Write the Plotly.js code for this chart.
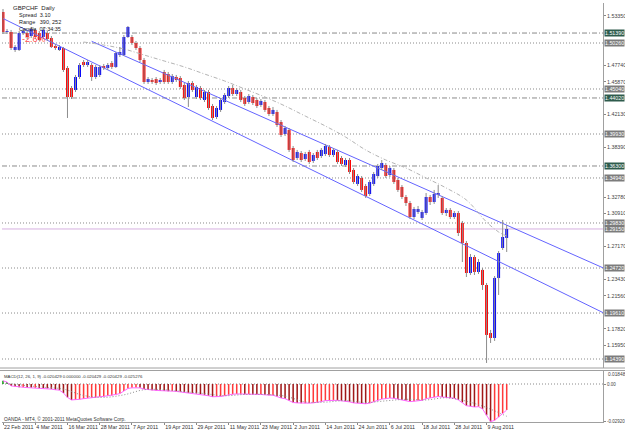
<!DOCTYPE html>
<html><head><meta charset="utf-8">
<script src="https://cdn.plot.ly/plotly-3.0.1.min.js"></script>
<style>html,body{margin:0;padding:0;background:#fff}#chart{width:625px;height:434px}</style>
</head><body><div id="chart"></div>
<script>
// ---- data ----
const dateLabels = ["22 Feb 2011","4 Mar 2011","16 Mar 2011","28 Mar 2011","7 Apr 2011","19 Apr 2011","29 Apr 2011","11 May 2011","23 May 2011","2 Jun 2011","14 Jun 2011","24 Jun 2011","6 Jul 2011","18 Jul 2011","28 Jul 2011","9 Aug 2011"];
const dateBars = [0,8,16,24,32,40,48,56,64,72,80,88,96,104,112,120];

const opens = [1.5378,1.5151,1.5151,1.4947,1.4947,1.5139,1.5139,1.5105,1.5174,1.5139,
 1.5094,1.5139,1.5083,1.4992,1.4947,1.4969,1.4742,1.4515,1.4493,1.4640,
 1.4810,1.4776,1.4776,1.4640,1.4663,1.4765,1.4742,1.4799,1.4754,1.4890,
 1.4890,1.5094,1.5094,1.5026,1.4969,1.4833,1.4583,1.4606,1.4617,1.4583,
 1.4697,1.4674,1.4583,1.4640,1.4629,1.4549,1.4413,1.4572,1.4413,1.4515,
 1.4379,1.4470,1.4311,1.4186,1.4266,1.4356,1.4424,1.4515,1.4447,1.4470,
 1.4402,1.4356,1.4413,1.4379,1.4322,1.4356,1.4288,1.4220,1.4243,1.4129,
 1.3993,1.4039,1.3834,1.3721,1.3777,1.3709,1.3789,1.3687,1.3789,1.3743,
 1.3766,1.3846,1.3755,1.3789,1.3721,1.3641,1.3698,1.3585,1.3426,1.3494,
 1.3403,1.3312,1.3426,1.3516,1.3607,1.3641,1.3528,1.3585,1.3471,1.3392,
 1.3278,1.3210,1.3051,1.3108,1.3040,1.3096,1.3278,1.3221,1.3301,1.3267,
 1.3096,1.3131,1.3051,1.3096,1.2983,1.2756,1.2415,1.2597,1.2427,1.2450,
 1.2279,1.1734,1.1678,1.2359,1.2699,1.2813];
const highs = [1.5412,1.5185,1.5174,1.5003,1.5162,1.5185,1.5162,1.5208,1.5196,1.5162,
 1.5196,1.5162,1.5105,1.5015,1.5003,1.4981,1.4765,1.4538,1.4663,1.4799,
 1.4833,1.4833,1.4799,1.4776,1.4776,1.4788,1.4799,1.4822,1.4924,1.4981,
 1.5117,1.5219,1.5117,1.5049,1.4992,1.4856,1.4640,1.4629,1.4640,1.4629,
 1.4720,1.4697,1.4674,1.4663,1.4651,1.4572,1.4595,1.4595,1.4549,1.4538,
 1.4493,1.4493,1.4334,1.4311,1.4402,1.4458,1.4538,1.4549,1.4515,1.4493,
 1.4424,1.4447,1.4436,1.4402,1.4390,1.4379,1.4311,1.4300,1.4266,1.4152,
 1.4084,1.4061,1.3857,1.3812,1.3800,1.3789,1.3812,1.3777,1.3812,1.3834,
 1.3880,1.3868,1.3834,1.3812,1.3743,1.3721,1.3721,1.3607,1.3539,1.3516,
 1.3426,1.3471,1.3562,1.3653,1.3698,1.3664,1.3630,1.3607,1.3494,1.3414,
 1.3301,1.3233,1.3165,1.3176,1.3131,1.3323,1.3301,1.3358,1.3414,1.3289,
 1.3153,1.3153,1.3119,1.3119,1.3006,1.2779,1.2631,1.2620,1.2574,1.2472,
 1.2302,1.1769,1.2381,1.2665,1.3017,1.2960];
const lows = [1.5128,1.5128,1.4947,1.4924,1.4935,1.5117,1.5071,1.5083,1.5071,1.5049,
 1.5083,1.5049,1.4969,1.4947,1.4935,1.4697,1.4175,1.4390,1.4470,1.4617,
 1.4754,1.4754,1.4595,1.4617,1.4640,1.4720,1.4720,1.4731,1.4742,1.4867,
 1.4878,1.5083,1.5003,1.4947,1.4810,1.4561,1.4561,1.4561,1.4549,1.4561,
 1.4561,1.4561,1.4561,1.4583,1.4504,1.4379,1.4300,1.4470,1.4390,1.4379,
 1.4356,1.4266,1.4152,1.4163,1.4243,1.4334,1.4402,1.4424,1.4424,1.4356,
 1.4311,1.4334,1.4322,1.4288,1.4300,1.4243,1.4197,1.4197,1.4073,1.3959,
 1.3970,1.3789,1.3675,1.3698,1.3675,1.3687,1.3653,1.3664,1.3698,1.3721,
 1.3743,1.3732,1.3732,1.3653,1.3630,1.3619,1.3539,1.3426,1.3403,1.3335,
 1.3267,1.3289,1.3403,1.3494,1.3585,1.3494,1.3505,1.3426,1.3335,1.3255,
 1.3176,1.3028,1.3028,1.3085,1.3017,1.3074,1.3187,1.3199,1.3267,1.3074,
 1.3062,1.3028,1.3028,1.2835,1.2540,1.2370,1.2393,1.2393,1.2404,1.2223,
 1.1394,1.1621,1.1644,1.2166,1.2677,1.2654];
const closes = [1.5151,1.5162,1.4969,1.4981,1.5139,1.5162,1.5094,1.5185,1.5094,1.5060,
 1.5174,1.5071,1.4981,1.4969,1.4981,1.4720,1.4413,1.4413,1.4640,1.4776,
 1.4776,1.4810,1.4640,1.4754,1.4754,1.4742,1.4776,1.4754,1.4912,1.4924,
 1.5094,1.5208,1.5026,1.4969,1.4833,1.4583,1.4617,1.4583,1.4572,1.4606,
 1.4583,1.4583,1.4651,1.4606,1.4527,1.4402,1.4572,1.4493,1.4527,1.4402,
 1.4470,1.4288,1.4175,1.4288,1.4379,1.4436,1.4515,1.4447,1.4493,1.4379,
 1.4334,1.4424,1.4345,1.4311,1.4368,1.4266,1.4220,1.4266,1.4095,1.3982,
 1.4061,1.3812,1.3698,1.3789,1.3698,1.3766,1.3675,1.3755,1.3721,1.3812,
 1.3857,1.3755,1.3812,1.3675,1.3653,1.3698,1.3562,1.3448,1.3516,1.3358,
 1.3289,1.3448,1.3539,1.3630,1.3664,1.3516,1.3607,1.3448,1.3358,1.3278,
 1.3210,1.3051,1.3142,1.3142,1.3108,1.3278,1.3221,1.3312,1.3323,1.3096,
 1.3131,1.3051,1.3096,1.2869,1.2756,1.2415,1.2597,1.2427,1.2540,1.2279,
 1.1712,1.1678,1.2359,1.2642,1.2824,1.2915];

const maBars = [20,25,30,35,40,45,50,55,60,65,70,75,80,85,90,95,100,105,110,115,120,123,125];
const maValues = [1.5037,1.5003,1.4958,1.4890,1.4822,1.4754,1.4674,1.4595,1.4504,1.4413,1.4311,1.4197,1.4084,1.3959,1.3812,1.3698,1.3607,1.3494,1.3380,1.3244,1.2994,1.2881,1.2835];

const lowerChannelBars = [0,150];
const lowerChannelPrices = [1.5304,1.1941];
const upperChannelBars = [22,150];
const upperChannelPrices = [1.5045,1.2452];

const levelPrices = [1.5139,1.5026,1.4504,1.4402,1.3993,1.3630,1.3494,1.2983,1.2472,1.1961,1.1439];
const levelStyles = ["dashdot","dot","dot","dashdot","dot","dashdot","dot","dot","dot","dot","dot"];
const bidPrice = 1.2915;

const priceTicks = [1.5335,1.5148,1.4961,1.4774,1.4587,1.4400,1.4213,1.4026,1.3839,1.3652,1.3465,1.3278,1.3091,1.2904,1.2717,1.2530,1.2343,1.2156,1.1969,1.1782,1.1595,1.1408];
const priceTickText = ["1.53350","1.51480","1.49610","1.47740","1.45870","1.44000","1.42130","1.40260","1.38390","1.36520","1.34650","1.32780","1.30910","1.29040","1.27170","1.25300","1.23430","1.21560","1.19690","1.17820","1.15950","1.14080"];

const macdValues = [0.0025,0.0015,-0.0015,-0.0020,-0.0025,-0.0025,-0.0028,-0.0030,-0.0030,-0.0032,
 -0.0033,-0.0035,-0.0040,-0.0045,-0.0048,-0.0070,-0.0105,-0.0125,-0.0125,-0.0120,
 -0.0115,-0.0110,-0.0108,-0.0105,-0.0100,-0.0097,-0.0093,-0.0090,-0.0082,-0.0075,
 -0.0055,-0.0035,-0.0030,-0.0028,-0.0030,-0.0040,-0.0045,-0.0048,-0.0050,-0.0052,
 -0.0055,-0.0056,-0.0056,-0.0058,-0.0062,-0.0068,-0.0070,-0.0072,-0.0075,-0.0080,
 -0.0085,-0.0092,-0.0100,-0.0100,-0.0098,-0.0092,-0.0085,-0.0080,-0.0078,-0.0078,
 -0.0080,-0.0078,-0.0080,-0.0082,-0.0082,-0.0085,-0.0088,-0.0088,-0.0098,-0.0110,
 -0.0115,-0.0130,-0.0145,-0.0148,-0.0150,-0.0150,-0.0150,-0.0148,-0.0145,-0.0138,
 -0.0130,-0.0128,-0.0125,-0.0128,-0.0132,-0.0135,-0.0140,-0.0148,-0.0150,-0.0152,
 -0.0155,-0.0150,-0.0140,-0.0128,-0.0118,-0.0115,-0.0110,-0.0112,-0.0118,-0.0125,
 -0.0130,-0.0138,-0.0135,-0.0130,-0.0128,-0.0115,-0.0110,-0.0102,-0.0098,-0.0102,
 -0.0105,-0.0110,-0.0112,-0.0125,-0.0145,-0.0170,-0.0175,-0.0180,-0.0178,-0.0195,
 -0.0245,-0.0295,-0.0285,-0.0260,-0.0230,-0.0204];
const signalBars = [0,5,10,15,20,25,30,35,40,45,50,55,60,65,70,75,80,85,90,95,100,105,110,115,120,125];
const signalValues = [0.0010,-0.0010,-0.0025,-0.0040,-0.0090,-0.0105,-0.0085,-0.0045,-0.0045,-0.0060,-0.0075,-0.0092,-0.0082,-0.0082,-0.0095,-0.0140,-0.0142,-0.0130,-0.0145,-0.0132,-0.0120,-0.0125,-0.0108,-0.0135,-0.0185,-0.0253];

// ---- build ----
const n = opens.length;
const idx = opens.map((_, i) => i);
const wx = [], wy = [];
for (let i = 0; i < n; i++) { wx.push(i, i, null); wy.push(lows[i], highs[i], null); }
const bodyBase = idx.map(i => Math.min(opens[i], closes[i]));
const bodyH = idx.map(i => Math.abs(closes[i] - opens[i]));
const bodyCol = idx.map(i => closes[i] >= opens[i] ? '#0000ff' : '#ff0000');
const macdCol = idx.map(i => macdValues[i] >= 0 ? '#00a000' : (i > 0 && macdValues[i] < macdValues[i-1] ? '#a01818' : '#ff3a3a'));

// hide axis labels that sit under a level box (as in the terminal)
const boxed = levelPrices.concat([bidPrice]);
const tickKeep = priceTicks.map(t => boxed.every(b => Math.abs(b - t) > 0.0068));
const shownTicks = priceTicks.filter((t, k) => tickKeep[k]);
const shownTickText = priceTickText.filter((t, k) => tickKeep[k]);

const px = x => (x - 2) / 601, py = y => (422 - y) / 419;
const F = 'Liberation Sans, Arial, sans-serif';
const DOT = '1px,2px', DASHDOT = '5px,2px,1px,2px';

const traces = [
  {type:'scatter', mode:'lines', x:lowerChannelBars, y:lowerChannelPrices, line:{color:'#6464ff', width:1}, hoverinfo:'skip'},
  {type:'scatter', mode:'lines', x:upperChannelBars, y:upperChannelPrices, line:{color:'#6464ff', width:1}, hoverinfo:'skip'},
  {type:'scatter', mode:'lines', x:maBars, y:maValues, line:{color:'#b4b4b4', width:1, dash:'4px,2px,1px,2px', shape:'spline'}, hoverinfo:'skip'},
  {type:'scatter', mode:'lines', x:wx, y:wy, line:{color:'#8c8c8c', width:1}, hoverinfo:'skip', connectgaps:false},
  {type:'bar', x:idx, y:bodyH, base:bodyBase, width:0.72, marker:{color:bodyCol, line:{width:0}}, hoverinfo:'skip'},
  {type:'bar', x:idx, y:macdValues, base:0, width:0.38, marker:{color:macdCol, line:{width:0}}, xaxis:'x', yaxis:'y2', hoverinfo:'skip'},
  {type:'scatter', mode:'lines', x:idx, y:macdValues, line:{color:'#ff66ff', width:1}, xaxis:'x', yaxis:'y2', hoverinfo:'skip'},
  {type:'scatter', mode:'lines', x:signalBars, y:signalValues, line:{color:'#8c8c8c', width:1, dash:DOT, shape:'spline'}, xaxis:'x', yaxis:'y2', hoverinfo:'skip'}
];

const shapes = [];
levelPrices.forEach((p, k) => shapes.push({type:'line', xref:'paper', yref:'y', x0:0, x1:1, y0:p, y1:p, line:{color:'#8a8a8a', width:1, dash: levelStyles[k]==='dashdot' ? DASHDOT : DOT}, layer:'below'}));
shapes.push({type:'line', xref:'paper', yref:'y', x0:0, x1:1, y0:bidPrice, y1:bidPrice, line:{color:'#d6b0e0', width:1}, layer:'below'});
shapes.push({type:'line', xref:'paper', yref:'y2', x0:0, x1:1, y0:0, y1:0, line:{color:'#8a8a8a', width:1, dash:DOT}, layer:'below'});
shapes.push({type:'line', xref:'paper', yref:'paper', x0:-0.01, x1:1.04, y0:py(368), y1:py(368), line:{color:'#a0a0a0', width:1}});
shapes.push({type:'line', xref:'paper', yref:'paper', x0:-0.01, x1:1.04, y0:py(370.5), y1:py(370.5), line:{color:'#a0a0a0', width:1}});

const annotations = [];
levelPrices.forEach((p, k) => annotations.push({xref:'paper', yref:'y', x:1, y:p, xanchor:'left', yanchor:'middle', xshift:1, text:p.toFixed(5), showarrow:false, bgcolor: levelStyles[k]==='dashdot' ? '#2e5b4c' : '#7c7c7c', borderpad:0, font:{family:F, size:5.3, color:'#ffffff'}}));
annotations.push({xref:'paper', yref:'y', x:1, y:bidPrice, xanchor:'left', yanchor:'middle', xshift:1, text:bidPrice.toFixed(5), showarrow:false, bgcolor:'#7c7c7c', borderpad:0, font:{family:F, size:5.3, color:'#ffffff'}});
const txt = (s, x, y, size, color, extra) => Object.assign({xref:'paper', yref:'paper', x:px(x), y:py(y), xanchor:'left', yanchor:'middle', text:s, showarrow:false, font:{family:F, size:size, color:color}}, extra||{});
annotations.push(txt('-2.6%', 20, 39, 9, 'rgba(255,40,40,0.85)'));
annotations.push(txt('GBPCHF&nbsp;&nbsp;Daily', 11, 8, 6, '#222'));
annotations.push(txt('Spread&nbsp;&nbsp;3.10', 17, 15, 5.5, '#222'));
annotations.push(txt('Range&nbsp;&nbsp;&nbsp;390, 252', 17, 22, 5.5, '#222'));
annotations.push(txt('Candle&nbsp;&nbsp;07:34:35', 17, 29, 5.5, '#222'));
annotations.push(txt('MACD(12, 26, 1, 9) -0.020429 0.000000 -0.020429 -0.020429 -0.025276', 2, 376, 4.3, '#333'));
annotations.push(txt('OANDA - MT4, © 2001-2011 MetaQuotes Software Corp.', 2, 419, 4.8, '#333'));
annotations.push(txt('0.01848', 603, 374.5, 4.8, '#444', {xshift:3}));

const layout = {
  width:625, height:434, margin:{l:2, r:22, t:3, b:12},
  paper_bgcolor:'#ffffff', plot_bgcolor:'#ffffff', showlegend:false, barmode:'overlay',
  xaxis:{range:[-0.25,148.9], anchor:'y2', tickvals:dateBars, ticktext:dateLabels, ticklabelposition:'outside right', tickangle:0,
    ticks:'outside', ticklen:2, tickcolor:'#888', showgrid:false, zeroline:false, showline:true, linecolor:'#a0a0a0',
    tickfont:{family:F, size:5.3, color:'#333'}, fixedrange:true},
  yaxis:{domain:[py(368),1], range:[1.1337,1.5480], side:'right', tickvals:shownTicks, ticktext:shownTickText,
    ticks:'outside', ticklen:2, tickcolor:'#888', showgrid:false, zeroline:false, showline:true, linecolor:'#a0a0a0',
    tickfont:{family:F, size:5.3, color:'#444'}},
  yaxis2:{domain:[0,py(371)], range:[-0.0298,0.0102], side:'right', tickvals:[0,-0.0292], ticktext:['0.00','-0.02920'],
    ticks:'outside', ticklen:2, tickcolor:'#888', showgrid:false, zeroline:false, showline:true, linecolor:'#a0a0a0',
    tickfont:{family:F, size:4.5, color:'#444'}},
  shapes:shapes, annotations:annotations
};
Plotly.newPlot('chart', traces, layout, {staticPlot:true, displayModeBar:false});
</script></body></html>
